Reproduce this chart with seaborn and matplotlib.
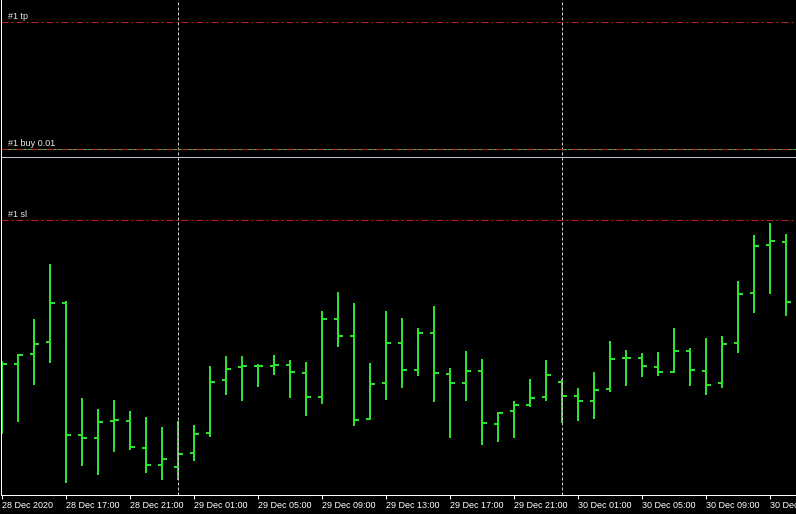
import numpy as np
import pandas as pd
import matplotlib
matplotlib.use("Agg")
import matplotlib.pyplot as plt
import seaborn as sns

# H1 bars, 28 Dec 2020 13:00 -> 30 Dec 2020 14:00
opens = [1.22335, 1.22336, 1.22346, 1.22358, 1.22397, 1.22265, 1.22262, 1.22279, 1.22279, 1.22252,
         1.22235, 1.22233, 1.22247, 1.22267, 1.22320, 1.22333, 1.22334, 1.22334, 1.22335, 1.22327,
         1.22303, 1.22381, 1.22364, 1.22281, 1.22317, 1.22357, 1.22330, 1.22367, 1.22326, 1.22317,
         1.22329, 1.22276, 1.22289, 1.22295, 1.22303, 1.22318, 1.22304, 1.22299, 1.22311, 1.22342,
         1.22342, 1.22333, 1.22328, 1.22349, 1.22329, 1.22317, 1.22357, 1.22407, 1.22455, 1.22458]
highs = [1.22339, 1.22346, 1.22381, 1.22436, 1.22399, 1.22302, 1.22291, 1.22300, 1.22289, 1.22283,
         1.22273, 1.22279, 1.22275, 1.22334, 1.22344, 1.22344, 1.22336, 1.22345, 1.22340, 1.22338,
         1.22389, 1.22408, 1.22397, 1.22337, 1.22389, 1.22382, 1.22372, 1.22394, 1.22332, 1.22349,
         1.22341, 1.22288, 1.22299, 1.22321, 1.22340, 1.22321, 1.22312, 1.22328, 1.22359, 1.22350,
         1.22347, 1.22348, 1.22372, 1.22352, 1.22362, 1.22364, 1.22419, 1.22465, 1.22477, 1.22466]
lows = [1.22266, 1.22278, 1.22315, 1.22337, 1.22217, 1.22234, 1.22225, 1.22248, 1.22250, 1.22227,
        1.22220, 1.22220, 1.22239, 1.22263, 1.22305, 1.22299, 1.22313, 1.22325, 1.22302, 1.22284,
        1.22296, 1.22353, 1.22274, 1.22280, 1.22300, 1.22312, 1.22324, 1.22298, 1.22262, 1.22299,
        1.22255, 1.22258, 1.22262, 1.22293, 1.22299, 1.22277, 1.22279, 1.22281, 1.22308, 1.22314,
        1.22323, 1.22324, 1.22327, 1.22314, 1.22305, 1.22312, 1.22347, 1.22387, 1.22406, 1.22384]
closes = [1.22336, 1.22345, 1.22356, 1.22397, 1.22265, 1.22262, 1.22278, 1.22280, 1.22253, 1.22235,
          1.22241, 1.22246, 1.22266, 1.22318, 1.22331, 1.22334, 1.22334, 1.22335, 1.22328, 1.22303,
          1.22381, 1.22364, 1.22280, 1.22316, 1.22357, 1.22330, 1.22367, 1.22327, 1.22317, 1.22329,
          1.22277, 1.22287, 1.22295, 1.22302, 1.22325, 1.22304, 1.22299, 1.22310, 1.22341, 1.22342,
          1.22334, 1.22328, 1.22349, 1.22330, 1.22315, 1.22356, 1.22406, 1.22454, 1.22459, 1.22398]

# order #1 levels
tp_level = 1.22678
buy_level = 1.22551
sl_level = 1.22480
ask_level = 1.22543

tick_labels = ["28 Dec 2020", "28 Dec 17:00", "28 Dec 21:00", "29 Dec 01:00", "29 Dec 05:00",
               "29 Dec 09:00", "29 Dec 13:00", "29 Dec 17:00", "29 Dec 21:00", "30 Dec 01:00",
               "30 Dec 05:00", "30 Dec 09:00", "30 Dec 13:00"]

df = pd.DataFrame({
    "time": pd.date_range("2020-12-28 13:00", periods=len(opens), freq="h"),
    "open": opens, "high": highs, "low": lows, "close": closes,
})
df["x"] = np.arange(len(df))

sns.set_theme(style="dark", rc={
    "axes.facecolor": "black",
    "figure.facecolor": "black",
    "lines.scale_dashes": False,
})
plt.rcParams["font.family"] = ["Liberation Sans", "DejaVu Sans"]

W, H = 796, 514
fig = plt.figure(figsize=(W / 100, H / 100), dpi=100)
ax = fig.add_axes([1 / W, 19 / H, 795 / W, 495 / H])

bar_col = "#30e030"
px = 0.72  # one pixel in points

# high-low bars with open/close ticks
ax.vlines(df["x"], df["low"], df["high"], color=bar_col, lw=2 * px)
ax.hlines(df["open"], df["x"] - 0.28, df["x"], color=bar_col, lw=2 * px)
ax.hlines(df["close"], df["x"], df["x"] + 0.3, color=bar_col, lw=2 * px)

# day separators
days = df.loc[df["time"].dt.hour == 0, "x"]
for d in days:
    ax.axvline(d, color="#d0d0d0", lw=px, ls=(0, (2.2, 1.4)))

# order lines
ax.axhline(ask_level, color="#c0c0d6", lw=px)
ax.axhline(buy_level, color="#3cc03c", lw=px)
red_dash = (0, (5, 2.2, 1.4, 2.2))
for lvl, txt in [(tp_level, "#1 tp"), (buy_level, "#1 buy 0.01"), (sl_level, "#1 sl")]:
    ax.axhline(lvl, color="#c01c24", lw=px, ls=red_dash)
    ax.text(0.35, lvl + 0.00003, txt, color="#e8e8e8", fontsize=6.5, va="baseline", ha="left")

ax.set_xlim(-0.0625, 49.625)
ax.set_ylim(1.22205, 1.22700)

ax.set_xticks(df["x"][::4])
ax.set_xticklabels(tick_labels, ha="left", color="white", fontsize=6.5)
ax.set_yticks([])
ax.tick_params(axis="x", colors="white", length=3, width=px, pad=1.5, bottom=True)
ax.grid(False)
for side in ["top", "right"]:
    ax.spines[side].set_visible(False)
for side in ["left", "bottom"]:
    ax.spines[side].set_color("white")
    ax.spines[side].set_linewidth(px)

fig.savefig("out.png", dpi=100, facecolor="black")
